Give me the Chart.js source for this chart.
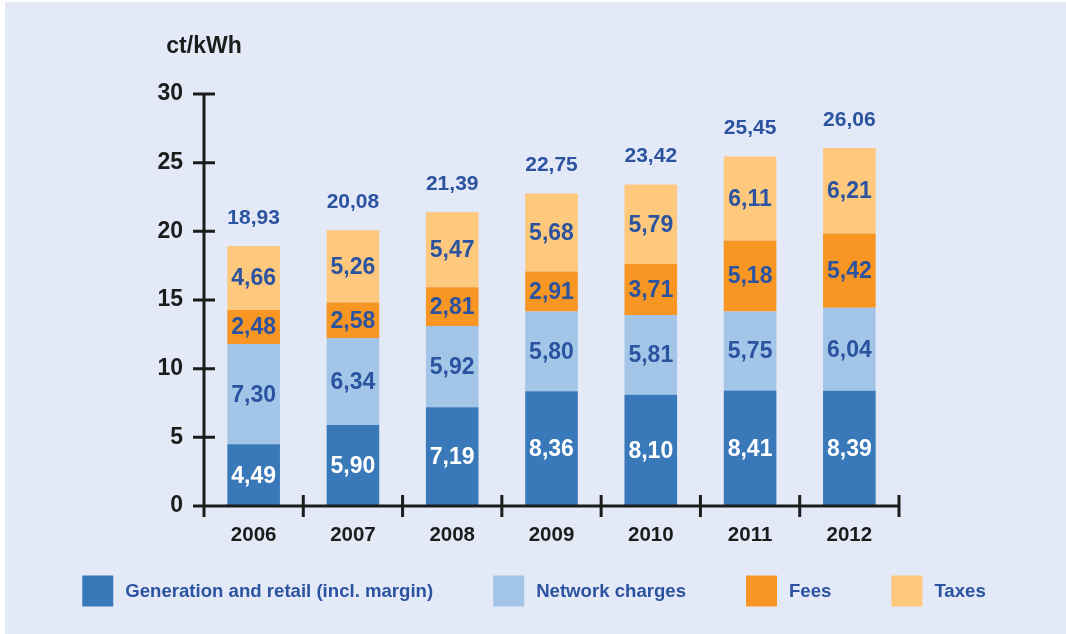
<!DOCTYPE html>
<html>
<head>
<meta charset="utf-8">
<script src="https://cdn.jsdelivr.net/npm/chart.js@4.4.1/dist/chart.umd.min.js"></script>
<style>
  html, body { margin: 0; padding: 0; background: #ffffff; }
  #wrap { width: 1066px; height: 634px; position: relative; }
</style>
</head>
<body>
<div id="wrap"><canvas id="priceChart" width="1066" height="634"></canvas></div>
<script>
// Data (ct/kWh)
const years = ['2006', '2007', '2008', '2009', '2010', '2011', '2012'];
const generation = [4.49, 5.90, 7.19, 8.36, 8.10, 8.41, 8.39];
const network = [7.30, 6.34, 5.92, 5.80, 5.81, 5.75, 6.04];
const fees = [2.48, 2.58, 2.81, 2.91, 3.71, 5.18, 5.42];
const taxes = [4.66, 5.26, 5.47, 5.68, 5.79, 6.11, 6.21];
const totals = [18.93, 20.08, 21.39, 22.75, 23.42, 25.45, 26.06];
const yTicks = [0, 5, 10, 15, 20, 25, 30];

const FONT = "'Liberation Sans', Arial, sans-serif";
const BG = '#e3e9f7';
const INK = '#1c1c1c';
const LABEL_BLUE = '#2b53a0';

const fmt = v => v.toFixed(2).replace('.', ',');

// background panel
const bgPlugin = {
    id: 'bgPanel',
    beforeDraw(chart) {
        const ctx = chart.ctx;
        ctx.save();
        ctx.fillStyle = BG;
        ctx.fillRect(5, 2, chart.width - 5, chart.height - 2);
        ctx.restore();
    }
};

// axes with ticks crossing the lines
const axesPlugin = {
    id: 'crossAxes',
    afterDatasetsDraw(chart) {
        const ctx = chart.ctx;
        const x = chart.scales.x, y = chart.scales.y;
        const left = chart.chartArea.left, right = chart.chartArea.right;
        const top = y.getPixelForValue(30), zero = y.getPixelForValue(0);
        const t = 11;
        ctx.save();
        ctx.strokeStyle = INK;
        ctx.lineWidth = 3;
        ctx.beginPath();
        ctx.moveTo(left, top);
        ctx.lineTo(left, zero + t);
        ctx.moveTo(left - t, zero);
        ctx.lineTo(right, zero);
        yTicks.forEach(v => {
            const py = y.getPixelForValue(v);
            ctx.moveTo(left - t, py);
            ctx.lineTo(left + t, py);
        });
        for (let i = 0; i <= years.length; i++) {
            const px = x.getPixelForValue(i - 0.5);
            ctx.moveTo(px, zero - t);
            ctx.lineTo(px, zero + t);
        }
        ctx.stroke();

        // unit label
        ctx.fillStyle = INK;
        ctx.font = 'bold 23px ' + FONT;
        ctx.textAlign = 'center';
        ctx.textBaseline = 'middle';
        ctx.fillText('ct/kWh', left, 47);
        ctx.restore();
    }
};

// value labels inside segments and totals on top
const labelPlugin = {
    id: 'valueLabels',
    afterDatasetsDraw(chart) {
        const ctx = chart.ctx;
        ctx.save();
        ctx.textAlign = 'center';
        ctx.textBaseline = 'middle';
        ctx.font = 'bold 23px ' + FONT;
        chart.data.datasets.forEach((ds, di) => {
            const meta = chart.getDatasetMeta(di);
            meta.data.forEach((bar, i) => {
                ctx.fillStyle = di === 0 ? '#ffffff' : LABEL_BLUE;
                ctx.fillText(fmt(ds.data[i]), bar.x, (bar.y + bar.base) / 2 + 1);
            });
        });
        const y = chart.scales.y;
        const topMeta = chart.getDatasetMeta(3);
        ctx.font = 'bold 21px ' + FONT;
        ctx.fillStyle = LABEL_BLUE;
        totals.forEach((v, i) => {
            ctx.fillText(fmt(v), topMeta.data[i].x, y.getPixelForValue(v) - 28);
        });
        ctx.restore();
    }
};

// legend row along the bottom
const legendPlugin = {
    id: 'bottomLegend',
    afterDraw(chart) {
        const ctx = chart.ctx;
        const box = 31, gapText = 12, gapItem = 60, cy = 591;
        ctx.save();
        ctx.font = 'bold 18.6px ' + FONT;
        ctx.textBaseline = 'middle';
        ctx.textAlign = 'left';
        const items = chart.data.datasets.map(ds => ({
            text: ds.label,
            color: ds.backgroundColor,
            w: box + gapText + ctx.measureText(ds.label).width
        }));
        const total = items.reduce((s, it) => s + it.w, 0) + gapItem * (items.length - 1);
        let xPos = 534 - total / 2;
        items.forEach(it => {
            ctx.fillStyle = it.color;
            ctx.fillRect(xPos, cy - box / 2, box, box);
            ctx.fillStyle = LABEL_BLUE;
            ctx.fillText(it.text, xPos + box + gapText, cy + 1);
            xPos += it.w + gapItem;
        });
        ctx.restore();
    }
};

const ctx = document.getElementById('priceChart').getContext('2d');
new Chart(ctx, {
    type: 'bar',
    data: {
        labels: years,
        datasets: [{
            label: 'Generation and retail (incl. margin)',
            data: generation,
            backgroundColor: '#3978b9'
        }, {
            label: 'Network charges',
            data: network,
            backgroundColor: '#a3c6e8'
        }, {
            label: 'Fees',
            data: fees,
            backgroundColor: '#f79623'
        }, {
            label: 'Taxes',
            data: taxes,
            backgroundColor: '#fec87d'
        }]
    },
    options: {
        responsive: false,
        animation: false,
        devicePixelRatio: 1,
        layout: { padding: { top: 94, right: 167, left: 0, bottom: 72 } },
        datasets: {
            bar: { barPercentage: 0.53, categoryPercentage: 1, borderWidth: 0 }
        },
        scales: {
            x: {
                stacked: true,
                offset: true,
                grid: { display: false, drawTicks: false },
                border: { display: false },
                ticks: {
                    color: INK,
                    padding: 17,
                    font: { family: FONT, size: 20.5, weight: 'bold' }
                },
                afterFit: s => { s.height = 56; }
            },
            y: {
                stacked: true,
                min: 0,
                max: 30,
                grid: { display: false, drawTicks: false },
                border: { display: false },
                ticks: {
                    stepSize: 5,
                    color: INK,
                    padding: 21,
                    font: { family: FONT, size: 23, weight: 'bold' }
                },
                afterFit: s => { s.width = 204; }
            }
        },
        plugins: {
            legend: { display: false },
            tooltip: { enabled: false }
        }
    },
    plugins: [bgPlugin, axesPlugin, labelPlugin, legendPlugin]
});
</script>
</body>
</html>
